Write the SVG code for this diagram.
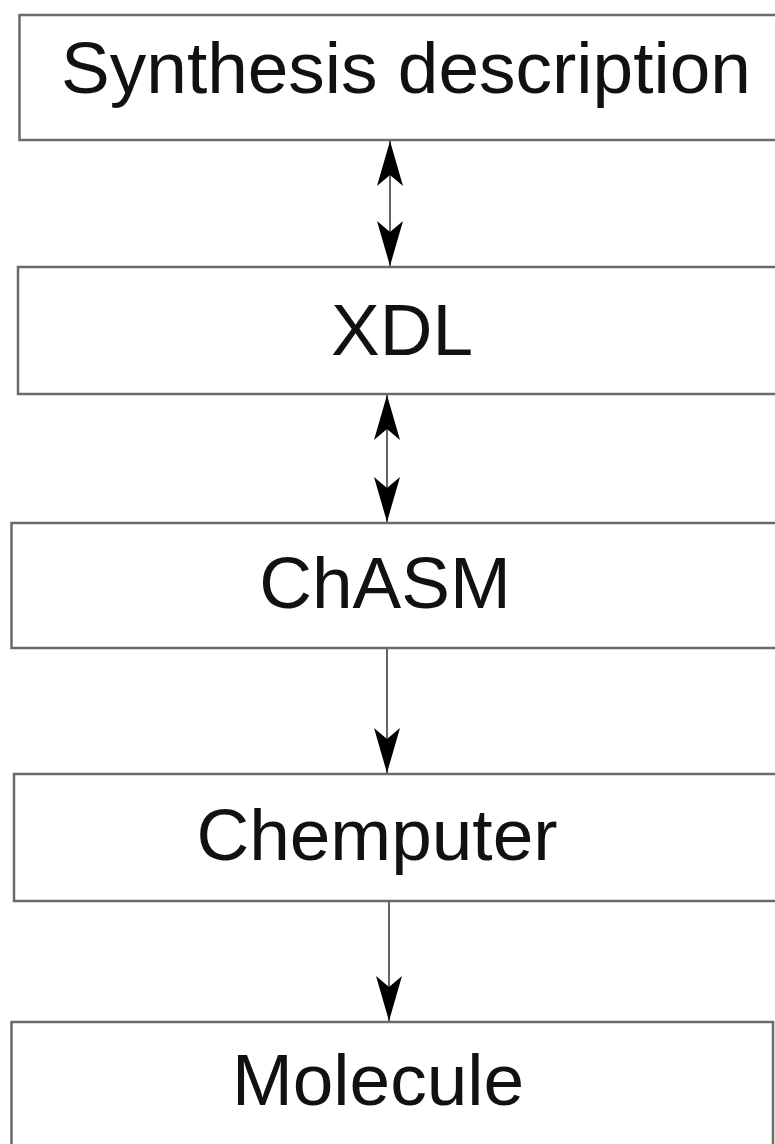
<svg xmlns="http://www.w3.org/2000/svg" width="775" height="1144" viewBox="0 0 775 1144">
  <style>
    .box { fill: #ffffff; stroke: #6a6a6a; stroke-width: 2.5; }
    .label { font-family: "Liberation Sans", Arial, sans-serif; font-size: 73px; fill: #111111; text-anchor: middle; }
    .conn { stroke: #555555; stroke-width: 1.8; fill: none; }
  </style>
  <defs>
    <marker id="head" markerUnits="userSpaceOnUse" viewBox="-48 -15 50 30" refX="0" refY="0" markerWidth="50" markerHeight="30" orient="auto-start-reverse">
      <path d="M0,0 L-45,-13 L-34,0 L-45,13 Z" fill="#000000"/>
    </marker>
  </defs>
  <rect x="0" y="0" width="775" height="1144" fill="#ffffff"/>

  <g id="node-synthesis">
    <rect class="box" x="19.5" y="15" width="760" height="125"/>
    <text class="label" x="406" y="93">Synthesis description</text>
  </g>
  <g id="node-xdl">
    <rect class="box" x="18" y="267" width="762" height="127"/>
    <text class="label" x="402" y="355">XDL</text>
  </g>
  <g id="node-chasm">
    <rect class="box" x="11.5" y="523" width="768" height="125"/>
    <text class="label" x="385" y="608">ChASM</text>
  </g>
  <g id="node-chemputer">
    <rect class="box" x="14" y="774" width="766" height="127"/>
    <text class="label" x="377" y="860">Chemputer</text>
  </g>
  <g id="node-molecule">
    <rect class="box" x="11.5" y="1022" width="761.5" height="140"/>
    <text class="label" x="378" y="1105">Molecule</text>
  </g>

  <g id="connectors">
    <line class="conn" x1="390" y1="141" x2="390" y2="266" marker-start="url(#head)" marker-end="url(#head)"/>
    <line class="conn" x1="387" y1="395" x2="387" y2="522" marker-start="url(#head)" marker-end="url(#head)"/>
    <line class="conn" x1="387" y1="649" x2="387" y2="773" marker-end="url(#head)"/>
    <line class="conn" x1="389" y1="902" x2="389" y2="1021" marker-end="url(#head)"/>
  </g>
</svg>
